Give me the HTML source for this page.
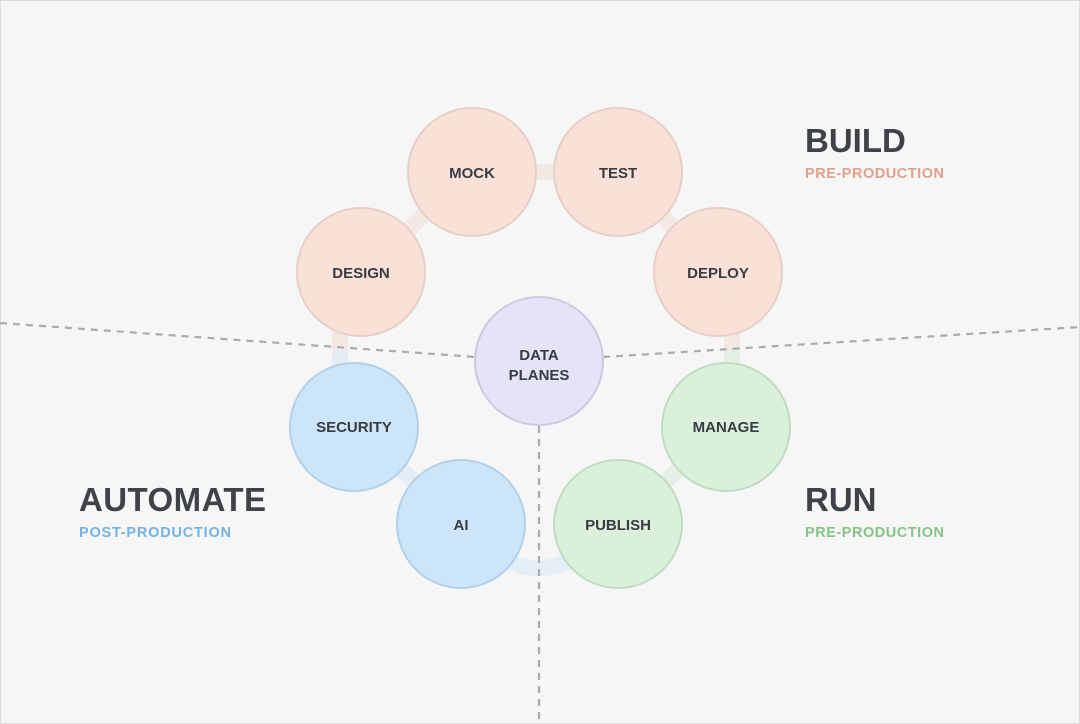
<!DOCTYPE html>
<html><head><meta charset="utf-8"><style>
html,body{margin:0;padding:0;background:#f6f6f6;}
svg{display:block;font-family:"Liberation Sans",Arial,sans-serif;}
</style></head><body>
<svg width="1080" height="724" viewBox="0 0 1080 724" xmlns="http://www.w3.org/2000/svg">
<rect x="0.5" y="0.5" width="1079" height="723" fill="#f6f6f6" stroke="#dcdcdc"/>
<g fill="none" stroke-width="16" stroke-linecap="butt">
<line x1="472" y1="172" x2="618" y2="172" stroke="#f3e8e3"/>
<line x1="361" y1="272" x2="472" y2="172" stroke="#f3e8e3"/>
<line x1="618" y1="172" x2="718" y2="272" stroke="#f3e8e3"/>
<line x1="340" y1="272" x2="340" y2="350" stroke="#f3e8e3"/>
<line x1="340" y1="350" x2="340" y2="400" stroke="#e2edf6"/>
<line x1="732" y1="272" x2="732" y2="350" stroke="#f3e8e3"/>
<line x1="732" y1="350" x2="732" y2="400" stroke="#e6efe6"/>
<line x1="354" y1="427" x2="461" y2="524" stroke="#e2edf6"/>
<line x1="726" y1="427" x2="618" y2="524" stroke="#e6efe6"/>
<path d="M461 524 Q539 612 618 524" stroke="#e4eef6"/>
</g>
<g fill="none" stroke="#ababab" stroke-width="2.2" stroke-dasharray="7,6">
<line x1="0" y1="323" x2="476" y2="357"/>
<line x1="603" y1="357" x2="1080" y2="327"/>
<line x1="539" y1="426" x2="539" y2="724"/>
</g>
<g stroke-width="2">
<circle cx="472" cy="172" r="64" fill="#fae1d7" stroke="#e6cfc6"/>
<circle cx="618" cy="172" r="64" fill="#fae1d7" stroke="#e6cfc6"/>
<circle cx="361" cy="272" r="64" fill="#fae1d7" stroke="#e6cfc6"/>
<circle cx="718" cy="272" r="64" fill="#fae1d7" stroke="#e6cfc6"/>
<circle cx="539" cy="361" r="64" fill="#e4e4f6" stroke="#ccc9e0"/>
<circle cx="354" cy="427" r="64" fill="#cde5f8" stroke="#b3d0e8"/>
<circle cx="461" cy="524" r="64" fill="#cde5f8" stroke="#b3d0e8"/>
<circle cx="726" cy="427" r="64" fill="#daf0da" stroke="#c0dcc0"/>
<circle cx="618" cy="524" r="64" fill="#daf0da" stroke="#c0dcc0"/>
</g>
<g font-weight="bold" font-size="15" fill="#383c41" text-anchor="middle">
<text x="472" y="178">MOCK</text>
<text x="618" y="178">TEST</text>
<text x="361" y="278">DESIGN</text>
<text x="718" y="278">DEPLOY</text>
<text x="539" y="360">DATA</text>
<text x="539" y="380">PLANES</text>
<text x="354" y="432">SECURITY</text>
<text x="461" y="530">AI</text>
<text x="726" y="432">MANAGE</text>
<text x="618" y="530">PUBLISH</text>
</g>
<g font-weight="bold">
<text x="805" y="152" font-size="33" fill="#3f4348">BUILD</text>
<text x="805" y="178" font-size="14.5" fill="#e0a08a" textLength="139">PRE-PRODUCTION</text>
<text x="805" y="511" font-size="33" fill="#3f4348">RUN</text>
<text x="805" y="537" font-size="14.5" fill="#86c486" textLength="139">PRE-PRODUCTION</text>
<text x="79" y="511" font-size="33" fill="#3f4348" textLength="187">AUTOMATE</text>
<text x="79" y="537" font-size="14.5" fill="#73b2e2" textLength="152">POST-PRODUCTION</text>
</g>
</svg>
</body></html>
